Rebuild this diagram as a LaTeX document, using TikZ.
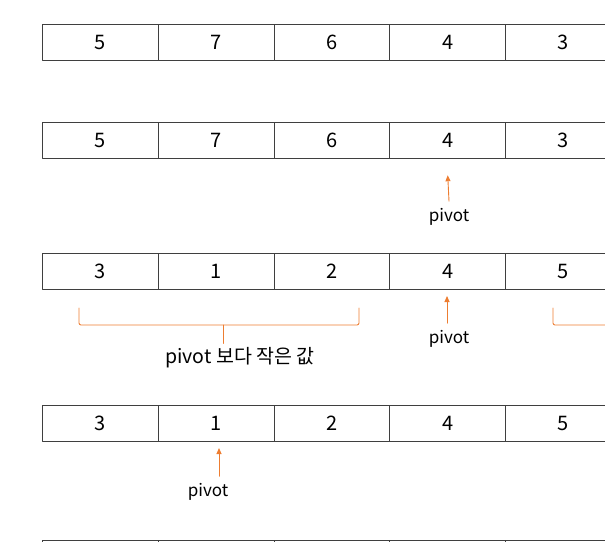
\documentclass[tikz,border=0pt]{standalone}
\usepackage{fontspec}
\setmainfont{Noto Sans CJK KR}
\usetikzlibrary{arrows.meta}
\definecolor{edge}{HTML}{3F3F3F}
\definecolor{accent}{HTML}{ED7D31}
\tikzset{
  every picture/.style={line join=round, line cap=round, >=Stealth},
  cell/.style={draw=edge, line width=1.2pt, anchor=north west, inner sep=0pt,
    minimum width=115.75pt, minimum height=36pt, font=\fontsize{20}{20}\selectfont},
  ptr/.style={draw=accent, line width=0.9pt, -{Triangle[length=6pt,width=5pt]}},
  brace/.style={draw=accent, line width=0.9pt, rounded corners=2pt},
  tag/.style={inner sep=0pt, font=\fontsize{17}{17}\selectfont},
}

\begin{document}
\begin{tikzpicture}[x=1pt,y=-1pt]
\useasboundingbox (0,0) rectangle (605,541);
\clip (0,0) rectangle (605,541);
\foreach \v [count=\i] in {5,7,6,4,3}
  \node[cell] (a\i) at ({42+(\i-1)*115.75},24) {\v};
\foreach \v [count=\i] in {5,7,6,4,3}
  \node[cell] (b\i) at ({42+(\i-1)*115.75},122) {\v};
\foreach \v [count=\i] in {3,1,2,4,5}
  \node[cell] (c\i) at ({42+(\i-1)*115.75},253) {\v};
\foreach \v [count=\i] in {3,1,2,4,5}
  \node[cell] (d\i) at ({42+(\i-1)*115.75},405) {\v};
\foreach \i in {1,...,5}
  \node[cell] (e\i) at ({42+(\i-1)*115.75},540) {};

\node[tag] (pb) at (449,217) {pivot};
\draw[ptr] ([yshift=7pt]pb.north) -- ([yshift=-16pt]b4.south);

\node[tag] (pc) at (449,339) {pivot};
\coordinate (tc) at (447,296);
\draw[ptr] (pc.north -| tc) ++(0,-7) -- (tc);

\node[tag, font=\fontsize{19.5}{19.5}\selectfont] (lo) at (240,358) {pivot 보다 작은 값};
\coordinate (lo1) at (79,308);
\coordinate (lo2) at (359,308);
\draw[brace] (lo1) -- (79,325) -- (lo2 |- 0,325) -- (lo2);
\draw[brace] (223,325) -- ([yshift=4pt]lo.north -| 223,0);

\coordinate (hi1) at (553,308);
\draw[brace] (hi1) -- (553,325) -- (700,325);

\node[tag] (pd) at (208,492) {pivot};
\coordinate (td) at (219,448);
\draw[ptr] (pd.north -| td) ++(0,-7) -- (td);
\end{tikzpicture}
\end{document}
